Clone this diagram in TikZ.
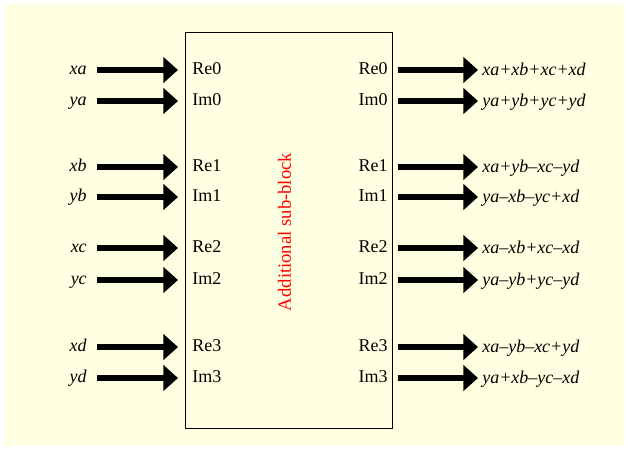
\documentclass[tikz,border=0pt]{standalone}
\usepackage{fontspec}
\setmainfont{Liberation Serif}
\usetikzlibrary{arrows.meta}
\definecolor{sheet-yellow}{HTML}{FFFFE1}
\definecolor{block-red}{HTML}{FF0000}

\begin{document}
\begin{tikzpicture}[x=0.75pt, y=-0.75pt,
    every node/.style={font=\fontsize{13.5}{16}\selectfont, inner sep=0pt,
      text height=1.9ex, text depth=0.3ex},
    bus/.style={line width=4.5pt, -{Triangle[length=11pt,width=19pt]}}]
  \useasboundingbox (0,0) rectangle (628,450);
  \fill[sheet-yellow] (4,4) rectangle (624,446);
  \node[draw, line width=0.75pt, anchor=north west,
        minimum width=155.25pt, minimum height=297pt] (block) at (185,32) {};
  \node[rotate=90, text=block-red, font=\fontsize{14}{16}\selectfont]
    (title) at (286,232) {Additional sub-block};
  % one pair of Re/Im ports per row
  \foreach \yr/\yi/\k/\xin/\yin/\xout/\yout in {
      70/101/0/xa/ya/{xa+xb+xc+xd}/{ya+yb+yc+yd},
      167/197/1/xb/yb/{xa+yb--xc--yd}/{ya--xb--yc+xd},
      248/280/2/xc/yc/{xa--xb+xc--xd}/{ya--yb+yc--yd},
      347/378/3/xd/yd/{xa--yb--xc+yd}/{ya+xb--yc--xd}} {
    \node[anchor=east] (x\k) at (87,\yr) {\itshape\xin};
    \node[anchor=east] (y\k) at (87,\yi) {\itshape\yin};
    \node[anchor=west] (rein\k) at (192,\yr) {Re\k};
    \node[anchor=west] (imin\k) at (192,\yi) {Im\k};
    \node[anchor=east] (reout\k) at (388,\yr) {Re\k};
    \node[anchor=east] (imout\k) at (388,\yi) {Im\k};
    \node[anchor=west] (sre\k) at (482,\yr+1) {\itshape\xout};
    \node[anchor=west] (sim\k) at (482,\yi+1) {\itshape\yout};
    \draw[bus, shorten <=7.5pt, shorten >=10.5pt] (x\k) -- (rein\k);
    \draw[bus, shorten <=7.5pt, shorten >=10.5pt] (y\k) -- (imin\k);
    \draw[bus, shorten <=7.5pt, shorten >=3pt] (reout\k) -- (reout\k -| sre\k.west);
    \draw[bus, shorten <=7.5pt, shorten >=3pt] (imout\k) -- (imout\k -| sim\k.west);
  }
\end{tikzpicture}
\end{document}
